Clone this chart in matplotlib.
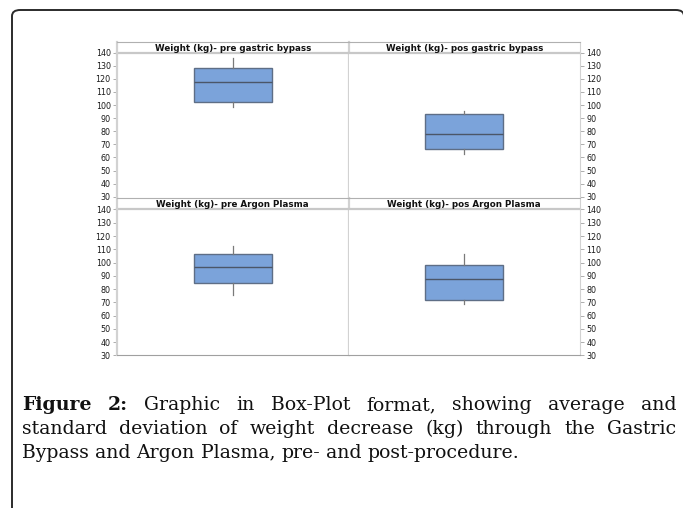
import matplotlib
matplotlib.use("Agg")
import matplotlib.pyplot as plt
from matplotlib.patches import FancyBboxPatch

# ---------------- data ----------------
panel_titles = ["Weight (kg)- pre gastric bypass", "Weight (kg)- pos gastric bypass",
                "Weight (kg)- pre Argon Plasma", "Weight (kg)- pos Argon Plasma"]
whis_low = [98.8, 62.8, 75.6, 69.0]
q1_vals = [102.1, 66.7, 84.4, 72.0]
medians = [117.4, 78.1, 96.7, 87.9]
q3_vals = [128.1, 92.9, 106.5, 98.5]
whis_high = [135.7, 95.5, 112.8, 106.3]
y_ticks = list(range(30, 150, 10))
caption_lines = [
    "Figure 2: Graphic in Box-Plot format, showing average and",
    "standard deviation of weight decrease (kg) through the Gastric",
    "Bypass and Argon Plasma, pre- and post-procedure.",
]

W, H = 683, 508
fig = plt.figure(figsize=(W / 100, H / 100), dpi=100)
fig.patch.set_facecolor("white")


def ax_px(x0, y0, x1, y1):
    return fig.add_axes([x0 / W, 1 - y1 / H, (x1 - x0) / W, (y1 - y0) / H])


# outer rounded frame
frame = FancyBboxPatch((12 / W, -0.2), (684 - 12) / W, 1 - 10 / H + 0.2,
                       boxstyle="round,pad=0,rounding_size=0.012",
                       transform=fig.transFigure, fill=False,
                       edgecolor="#2b2b2b", linewidth=1.4, clip_on=False)
fig.patches.append(frame)

cols = [(117, 348.5), (348.5, 580)]
rows = [(41.7, 52.7, 196.7), (197.8, 209.5, 355.3)]

for i in range(4):
    r, c = divmod(i, 2)
    x0, x1 = cols[c]
    ty0, py0, py1 = rows[r]
    ax = ax_px(x0, py0, x1, py1)
    tax = ax_px(x0, ty0, x1, py0)

    stats = [dict(med=medians[i], q1=q1_vals[i], q3=q3_vals[i],
                  whislo=whis_low[i], whishi=whis_high[i], fliers=[])]
    ax.bxp(stats, positions=[1], widths=0.67, patch_artist=True, showcaps=False,
           boxprops=dict(facecolor="#7ba3da", edgecolor="#5e6e86", linewidth=1.0),
           medianprops=dict(color="#4b5668", linewidth=1.0),
           whiskerprops=dict(color="#7a7a7a", linewidth=0.9))
    ax.set_xlim(0, 2)
    ax.set_ylim(30, 140)
    ax.set_xticks([])
    ax.set_yticks(y_ticks)
    if c == 0:
        ax.yaxis.tick_left()
    else:
        ax.yaxis.tick_right()
    ax.tick_params(axis="y", length=3, width=0.6, color="#a0a0a0",
                   labelsize=5.8, labelcolor="#1a1a1a", pad=1.5)
    for lab in ax.get_yticklabels():
        lab.set_fontfamily("DejaVu Sans")

    ax.spines["top"].set_color("#c8c8c8")
    ax.spines["top"].set_linewidth(1.6)
    ax.spines["left"].set_color("#d2d2d2")
    ax.spines["left"].set_linewidth(1.6 if c == 0 else 0)
    ax.spines["right"].set_color("#d2d2d2")
    ax.spines["right"].set_linewidth(1.6 if c == 0 else 0.8)
    ax.spines["bottom"].set_color("#a0a0a0")
    ax.spines["bottom"].set_linewidth(0.8 if r == 1 else 0)

    tax.set_xticks([])
    tax.set_yticks([])
    tax.patch.set_alpha(0)
    tax.spines["bottom"].set_visible(False)
    tax.spines["top"].set_color("#b0b0b0")
    tax.spines["top"].set_linewidth(0.8)
    tax.spines["left"].set_color("#d2d2d2")
    tax.spines["left"].set_linewidth(1.6 if c == 0 else 0)
    tax.spines["right"].set_color("#d2d2d2")
    tax.spines["right"].set_linewidth(1.6 if c == 0 else 0.8)
    tax.text(0.5, 0.42, panel_titles[i], transform=tax.transAxes, ha="center",
             va="center", fontsize=6.3, fontweight="bold", color="#111111",
             family="DejaVu Sans")

# ---------------- caption (justified) ----------------
renderer = fig.canvas.get_renderer()
cap_family = "DejaVu Serif"
left_px, right_px = 22, 676
baselines = [410.5, 434, 457.5]

# choose size so the last (natural-width) line spans ~501 px
probe = fig.text(0, 0, caption_lines[2], fontsize=10, family=cap_family)
pw = probe.get_window_extent(renderer).width
probe.remove()
cap_fs = 10 * 501 / pw


def measure(s, bold=False):
    t = fig.text(0, 0, s, fontsize=cap_fs, family=cap_family,
                 fontweight="bold" if bold else "normal")
    w = t.get_window_extent(renderer).width
    t.remove()
    return w


space_w = measure("a a") - measure("aa")


def place_words(words, bold_flags, y_px, justify):
    texts = []
    widths = []
    for w, b in zip(words, bold_flags):
        t = fig.text(0, 1 - y_px / H, w, fontsize=cap_fs, family=cap_family,
                     fontweight="bold" if b else "normal",
                     va="baseline", ha="left", color="#111111")
        texts.append(t)
        widths.append(t.get_window_extent(renderer).width)
    if justify and len(words) > 1:
        gap = (right_px - left_px - sum(widths)) / (len(words) - 1)
    else:
        gap = space_w
    x = left_px
    for t, wd in zip(texts, widths):
        t.set_x(x / W)
        x += wd + gap


for li, line in enumerate(caption_lines):
    words = line.split(" ")
    bold = [li == 0 and k < 2 for k in range(len(words))]
    place_words(words, bold, baselines[li], justify=(li < 2))

fig.savefig("out.png", dpi=100)
